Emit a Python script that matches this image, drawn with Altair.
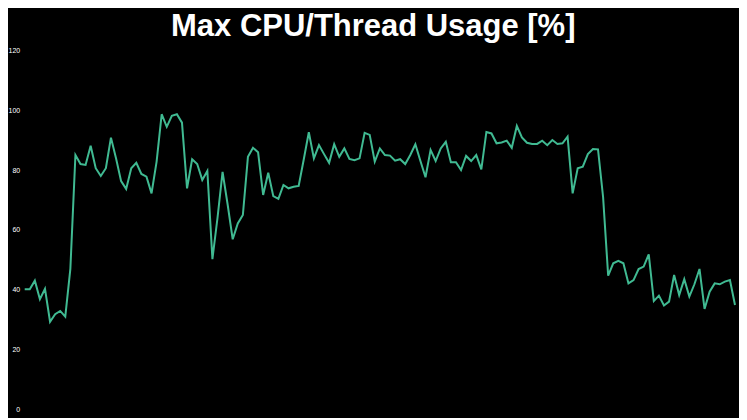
import altair as alt
import pandas as pd

title_text = "Max CPU/Thread Usage [%]"
y_ticks = [0, 20, 40, 60, 80, 100, 120]

usage = [
    40.2, 40.2, 43.1, 36.9, 40.4, 29.4, 31.9, 33.0, 31.1, 47.0,
    85.0, 82.0, 81.7, 88.1, 80.6, 78.0, 80.6, 90.8, 83.9, 76.3,
    73.7, 80.6, 82.4, 78.7, 77.8, 72.2, 82.8, 98.6, 94.4, 98.1,
    98.6, 95.8, 73.9, 83.6, 82.0, 76.7, 79.7, 50.3, 64.0, 79.4,
    68.5, 56.9, 62.2, 65.0, 84.4, 87.4, 85.9, 71.7, 79.1, 71.3,
    70.4, 75.0, 73.9, 74.4, 74.7, 83.5, 92.6, 83.9, 88.3, 85.3,
    82.4, 88.6, 84.4, 87.2, 83.7, 83.3, 83.9, 92.4, 91.7, 82.8,
    87.2, 85.0, 84.8, 83.1, 83.6, 82.0, 85.0, 88.6, 83.0, 77.6,
    86.7, 83.0, 87.2, 89.4, 82.6, 82.6, 80.0, 84.7, 83.0, 85.0,
    80.2, 92.7, 92.2, 88.9, 89.2, 89.8, 87.4, 94.7, 90.9, 89.1,
    88.7, 88.7, 89.8, 88.3, 90.0, 88.7, 88.9, 91.1, 72.2, 80.6,
    81.1, 85.3, 87.0, 86.9, 71.0, 44.8, 48.9, 49.7, 48.9, 42.2,
    43.3, 47.0, 47.8, 51.9, 36.3, 38.1, 34.8, 36.1, 45.0, 38.3,
    43.6, 37.8, 41.9, 47.0, 33.7, 39.4, 42.2, 41.9, 42.8, 43.3,
    35.0,
]

df = pd.DataFrame({"i": list(range(len(usage))), "usage": usage})

chart = (
    alt.Chart(df)
    .mark_line(color="#40BA92", strokeWidth=2)
    .encode(
        x=alt.X("i:Q", scale=alt.Scale(domain=[0, len(usage) - 1], nice=False, zero=False), axis=None),
        y=alt.Y(
            "usage:Q",
            scale=alt.Scale(domain=[0, 120], nice=False),
            axis=alt.Axis(
                values=y_ticks,
                title=None,
                grid=False,
                domain=False,
                ticks=False,
                labelColor="#FFFFFF",
                labelFontSize=7,
                labelFont="Liberation Sans",
                labelPadding=5,
            ),
        ),
    )
    .properties(
        width=710.6,
        height=360,
        autosize=alt.AutoSizeParams(type="none"),
        padding={"left": 16.7, "top": 42, "right": 4, "bottom": 8},
        background="#000000",
        title=alt.TitleParams(
            text=title_text,
            fontSize=31,
            font="Liberation Sans",
            fontWeight="bold",
            color="#FFFFFF",
            anchor="middle",
            frame="group",
            dx=-6.6,
            dy=33,
            baseline="alphabetic",
            offset=12,
        ),
    )
    .configure_view(stroke=None)
)

chart.save("out.html", embed_options={"renderer": "svg", "actions": False})
